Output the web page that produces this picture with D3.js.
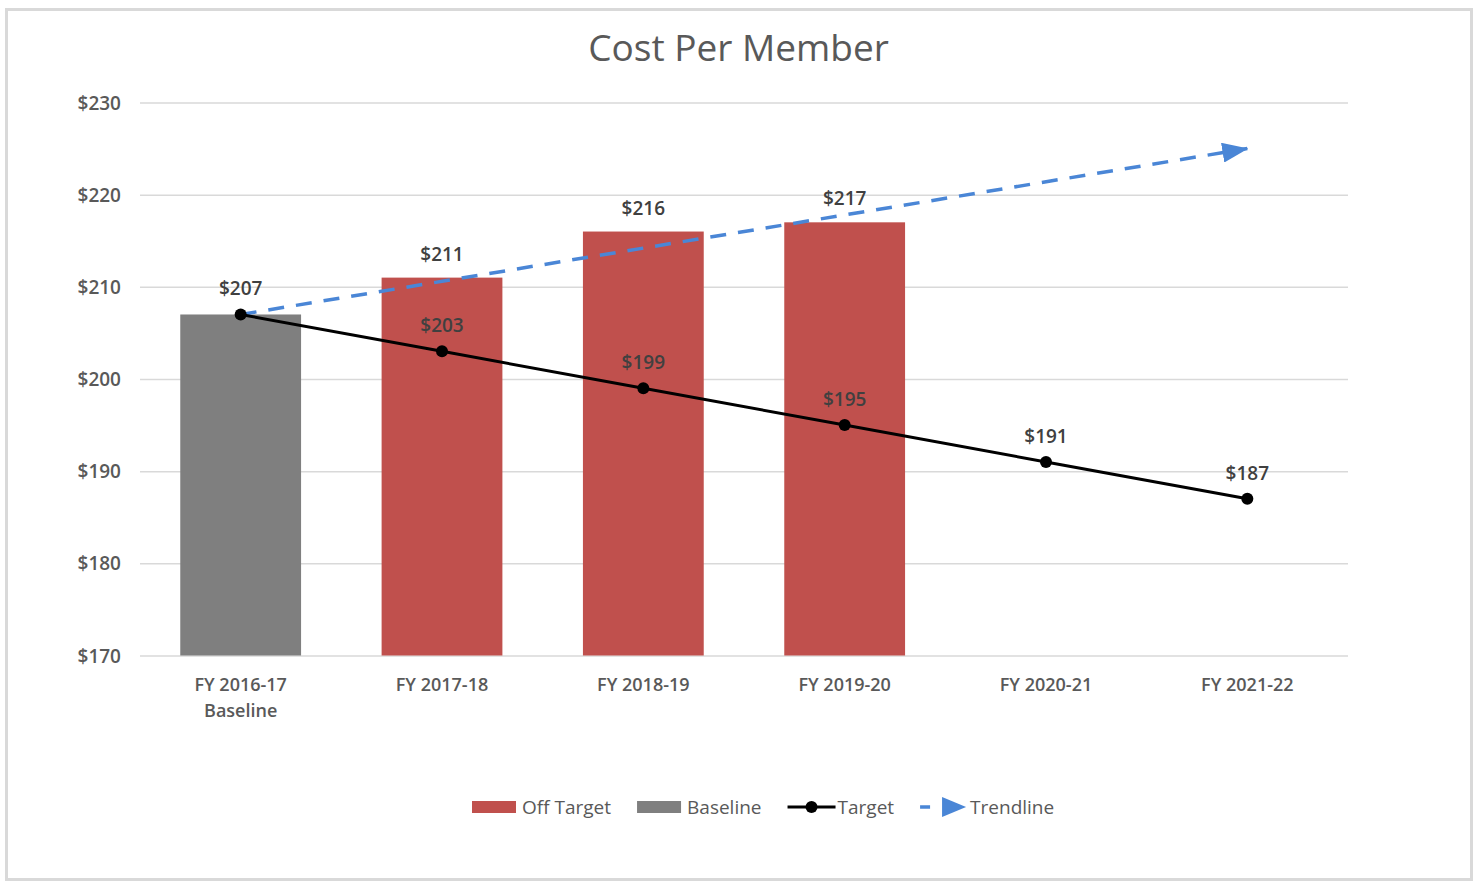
<!DOCTYPE html>
<html>
<head>
<meta charset="utf-8">
<script src="https://cdn.jsdelivr.net/npm/d3@7"></script>
<style>
  body{margin:0;background:#fff;}
  text{font-family:"Open Sans",sans-serif;}
</style>
</head>
<body>
<div id="chart"></div>
<script>
//Chart data
var categories=["FY 2016-17|Baseline","FY 2017-18","FY 2018-19","FY 2019-20","FY 2020-21","FY 2021-22"];
var barValues=[207,211,216,217,null,null];            //actual cost per member
var barType=["Baseline","Off Target","Off Target","Off Target",null,null];
var targetValues=[207,203,199,195,191,187];
var trendValues=[207,225];                            //trendline start (first year) and end (last year)
var yTicks=[170,180,190,200,210,220,230];
var legendItems=["Off Target","Baseline","Target","Trendline"];

//Chart Settings
var settings={
  width:1479,
  height:882,
  plot:{left:140,right:1348,top:102.5,bottom:655.5},
  red:"#C0504D",
  gray:"#7F7F7F",
  blue:"#4A86D6",
  grid:"#D9D9D9",
  axisText:"#595959",
  labelText:"#404040"
}

var svg=d3.select("#chart").append("svg")
  .attr("width",settings.width)
  .attr("height",settings.height)

//Outer frame
svg.append("rect")
  .attr("x",6.5).attr("y",9.5)
  .attr("width",1465).attr("height",870)
  .attr("fill","#fff")
  .attr("stroke","#D9D9D9")
  .attr("stroke-width",3)

//Title
svg.append("text")
  .attr("x",738.5).attr("y",61)
  .attr("text-anchor","middle")
  .style("font-size","37px")
  .attr("fill",settings.axisText)
  .text("Cost Per Member")

//Scales
var x=d3.scaleBand()
  .domain(categories)
  .range([settings.plot.left,settings.plot.right])
  .paddingInner(0.4)
  .paddingOuter(0.2)

var y=d3.scaleLinear()
  .domain([170,230])
  .range([settings.plot.bottom,settings.plot.top])

var cx=d=>x(d)+x.bandwidth()/2

//Gridlines + Y Axis
var yAxis=svg.append("g")
  .attr("transform","translate("+settings.plot.left+",0)")
  .call(d3.axisLeft(y).tickValues(yTicks).tickFormat(d=>"$"+d)
        .tickSize(-(settings.plot.right-settings.plot.left)).tickPadding(19))
yAxis.select(".domain").remove()
yAxis.selectAll(".tick line").attr("stroke",settings.grid).attr("stroke-width",1.5)
yAxis.selectAll(".tick text")
  .attr("fill",settings.axisText)
  .style("font-size","19px")
  .style("font-weight","600")
  .attr("dy","0.35em")

//X Axis labels (two line labels split on |)
var xAxis=svg.append("g")
  .attr("transform","translate(0,"+settings.plot.bottom+")")
  .call(d3.axisBottom(x).tickSize(0).tickFormat(""))
xAxis.select(".domain").remove()
xAxis.selectAll(".tick").each(function(d){
  var t=d3.select(this).append("text")
    .attr("text-anchor","middle")
    .attr("fill",settings.axisText)
    .style("font-size","18px")
    .style("font-weight","600")
  d.split("|").forEach((line,i)=>{
    t.append("tspan").attr("x",0).attr("y",35+i*26).text(line)
  })
})

//Bars
var barData=categories.map((c,i)=>({cat:c,value:barValues[i],type:barType[i]})).filter(d=>d.value!=null)
svg.append("g").selectAll("rect")
  .data(barData)
  .join("rect")
    .attr("x",d=>x(d.cat))
    .attr("y",d=>y(d.value))
    .attr("width",x.bandwidth())
    .attr("height",d=>y(170)-y(d.value))
    .attr("fill",d=>d.type==="Baseline"?settings.gray:settings.red)

//Bar labels (baseline bar shares the target label)
svg.append("g").selectAll("text")
  .data(barData.filter(d=>d.type!=="Baseline"))
  .join("text")
    .attr("x",d=>cx(d.cat))
    .attr("y",d=>y(d.value)-17)
    .attr("text-anchor","middle")
    .attr("fill",settings.labelText)
    .style("font-size","19px")
    .style("font-weight","600")
    .text(d=>"$"+d.value)

//Trendline with arrow head
var defs=svg.append("defs")
defs.append("marker")
  .attr("id","arrow")
  .attr("markerUnits","userSpaceOnUse")
  .attr("viewBox","0 0 26 20")
  .attr("refX",25).attr("refY",10)
  .attr("markerWidth",26).attr("markerHeight",20)
  .attr("orient","auto")
  .append("path")
    .attr("d","M0,0 L26,10 L0,20 Z")
    .attr("fill",settings.blue)

var trendX=[categories[0],categories[categories.length-1]]
svg.append("path")
  .datum(trendValues.map((v,i)=>[cx(trendX[i]),y(v)]))
  .attr("d",d3.line())
  .attr("fill","none")
  .attr("stroke",settings.blue)
  .attr("stroke-width",3.5)
  .attr("stroke-dasharray","16,12")
  .attr("marker-end","url(#arrow)")

//Target line
var targetData=categories.map((c,i)=>({cat:c,value:targetValues[i]}))
svg.append("path")
  .datum(targetData)
  .attr("d",d3.line().x(d=>cx(d.cat)).y(d=>y(d.value)))
  .attr("fill","none")
  .attr("stroke","#000")
  .attr("stroke-width",3)

svg.append("g").selectAll("circle")
  .data(targetData)
  .join("circle")
    .attr("cx",d=>cx(d.cat))
    .attr("cy",d=>y(d.value))
    .attr("r",6)
    .attr("fill","#000")

svg.append("g").selectAll("text")
  .data(targetData)
  .join("text")
    .attr("x",d=>cx(d.cat))
    .attr("y",d=>y(d.value)-19)
    .attr("text-anchor","middle")
    .attr("fill",settings.labelText)
    .style("font-size","19px")
    .style("font-weight","600")
    .text(d=>"$"+d.value)

//Legend
var legend=svg.append("g").attr("transform","translate(472,807)")
var lx=0
legendItems.forEach(name=>{
  var g=legend.append("g").attr("transform","translate("+lx+",0)")
  if(name==="Off Target"||name==="Baseline"){
    g.append("rect").attr("x",0).attr("y",-6).attr("width",44).attr("height",12)
     .attr("fill",name==="Baseline"?settings.gray:settings.red)
  }
  else if(name==="Target"){
    g.append("line").attr("x1",0).attr("x2",48).attr("y1",0).attr("y2",0)
     .attr("stroke","#000").attr("stroke-width",3)
    g.append("circle").attr("cx",24).attr("cy",0).attr("r",6).attr("fill","#000")
  }
  else{
    g.append("line").attr("x1",0).attr("x2",10).attr("y1",0).attr("y2",0)
     .attr("stroke",settings.blue).attr("stroke-width",3.5)
    g.append("path").attr("d","M22,-10 L46,0 L22,10 Z").attr("fill",settings.blue)
  }
  var t=g.append("text")
    .attr("x",50).attr("y",0).attr("dy","0.35em")
    .attr("fill",settings.axisText)
    .style("font-size","19px")
    .text(name)
  lx+=50+t.node().getComputedTextLength()+26
})
</script>
</body>
</html>
